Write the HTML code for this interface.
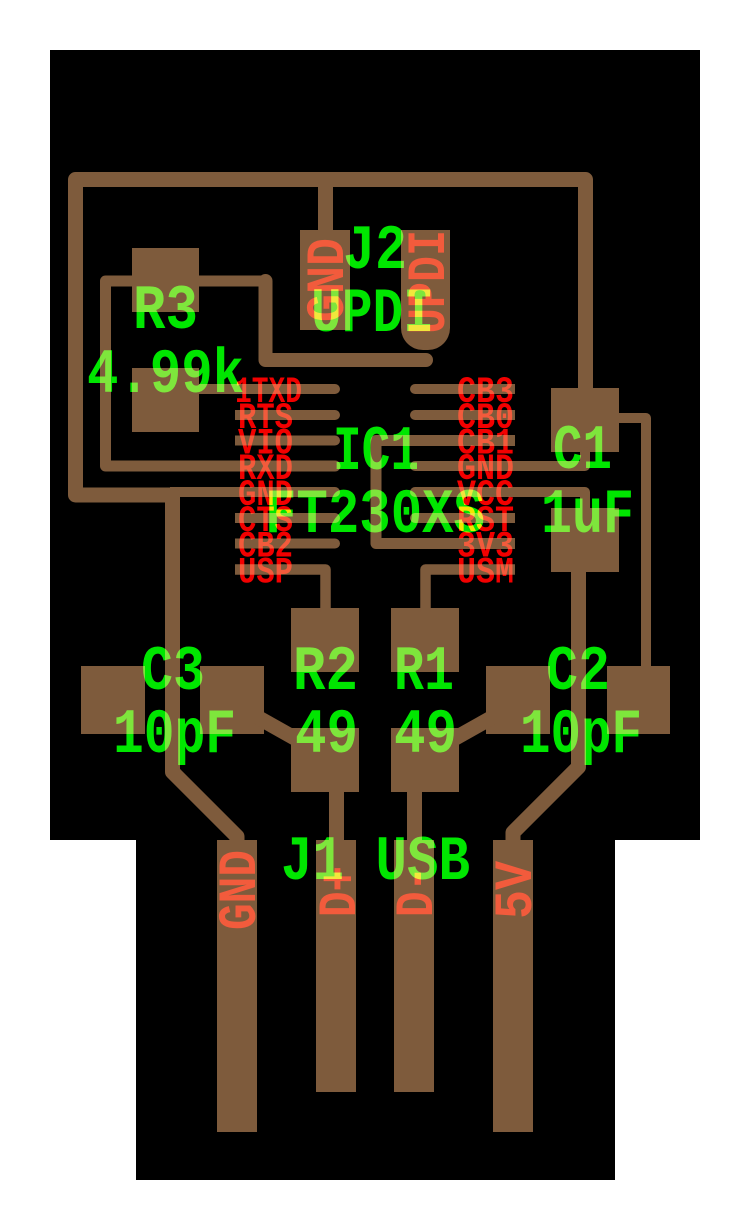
<!DOCTYPE html>
<html>
<head>
<meta charset="utf-8">
<style>
html,body{margin:0;padding:0;background:#fff;}
svg{display:block;}
.red{mix-blend-mode:lighten;}
.grn{mix-blend-mode:lighten;}
</style>
</head>
<body>
<svg width="750" height="1230" viewBox="0 0 750 1230" xmlns="http://www.w3.org/2000/svg">
<rect x="0" y="0" width="750" height="1230" fill="#ffffff"/>
<polygon points="50,50 700,50 700,840 615,840 615,1180 136,1180 136,840 50,840" fill="#000000"/>

<g fill="#7e5b3c" stroke="none">
  <rect x="132" y="248" width="67" height="64"/>
  <rect x="132" y="368" width="67" height="64"/>
  <rect x="300" y="230" width="50" height="100"/>
  <path d="M401,230 H450 V328 A22,22 0 0 1 428,350 H423 A22,22 0 0 1 401,328 Z"/>
  <rect x="551" y="388" width="68" height="64"/>
  <rect x="551" y="508" width="68" height="64"/>
  <rect x="81" y="666" width="64" height="68"/>
  <rect x="200" y="666" width="64" height="68"/>
  <rect x="486" y="666" width="64" height="68"/>
  <rect x="607" y="666" width="63" height="68"/>
  <rect x="291" y="608" width="68" height="64"/>
  <rect x="291" y="728" width="68" height="64"/>
  <rect x="391" y="608" width="68" height="64"/>
  <rect x="391" y="728" width="68" height="64"/>
  <rect x="217" y="840" width="40" height="292"/>
  <rect x="316" y="840" width="40" height="252"/>
  <rect x="394" y="840" width="40" height="252"/>
  <rect x="493" y="840" width="40" height="292"/>

  <rect x="199" y="384" width="136" height="10"/><circle cx="335" cy="389" r="5"/>
  <rect x="235" y="410" width="100" height="10"/><circle cx="335" cy="415" r="5"/>
  <rect x="235" y="435.5" width="100" height="10"/><circle cx="335" cy="440.5" r="5"/>
  <rect x="170" y="487" width="165" height="10"/><circle cx="335" cy="492" r="5"/>
  <rect x="235" y="513" width="100" height="10"/><circle cx="335" cy="518" r="5"/>
  <rect x="235" y="538.5" width="100" height="10"/><circle cx="335" cy="543.5" r="5"/>

  <rect x="415" y="384" width="100" height="10"/><circle cx="415" cy="389" r="5"/>
  <rect x="415" y="410" width="100" height="10"/><circle cx="415" cy="415" r="5"/>
  <rect x="415" y="513" width="100" height="10"/><circle cx="415" cy="518" r="5"/>
</g>

<g fill="none" stroke="#7e5b3c" stroke-linejoin="round">
  <polyline stroke-width="15" stroke-linecap="butt" points="585.5,392 585.5,179.5 75.5,179.5 75.5,495 172.5,495 172.5,772 237,836.5 237,845"/>
  <line stroke-width="15" x1="325.5" y1="179.5" x2="325.5" y2="234"/>
  <polyline stroke-width="11" stroke-linecap="round" points="335,466 105.5,466 105.5,281 265.5,281"/>
  <polyline stroke-width="14" stroke-linecap="round" points="265.5,281 265.5,360 426,360"/>
  <polyline stroke-width="10.5" stroke-linecap="butt" points="235,569.5 325.5,569.5 325.5,612"/>
  <polyline stroke-width="10.5" stroke-linecap="butt" points="515,569.5 425.5,569.5 425.5,612"/>
  <polyline stroke-width="11" stroke-linecap="butt" points="515,440.5 376,440.5 376,543.5 515,543.5"/>
  <polyline stroke-width="10" stroke-linecap="round" points="415,466 585,466 585,452"/>
  <polyline stroke-width="10" stroke-linecap="round" points="415,492 585,492 585,510"/>
  <polyline stroke-width="10" stroke-linecap="butt" points="612,418 646,418 646,670"/>
  <polyline stroke-width="15" stroke-linecap="butt" points="578.5,570 578.5,767 513,832.5 513,845"/>
  <line stroke-width="15" x1="336.5" y1="788" x2="336.5" y2="844"/>
  <line stroke-width="15" x1="414.5" y1="788" x2="414.5" y2="844"/>
  <line stroke-width="15" x1="258" y1="717.5" x2="298" y2="740"/>
  <line stroke-width="15" x1="452" y1="740" x2="492" y2="717.5"/>
</g>

<g class="red" fill="#f20000" font-family="'Liberation Mono', 'DejaVu Sans Mono', monospace" font-weight="bold" font-size="37">
  <text x="235" y="402" textLength="67" lengthAdjust="spacingAndGlyphs">1TXD</text>
  <text x="238" y="428" textLength="55" lengthAdjust="spacingAndGlyphs">RTS</text>
  <text x="238" y="453.5" textLength="55" lengthAdjust="spacingAndGlyphs">VIO</text>
  <text x="238" y="479" textLength="55" lengthAdjust="spacingAndGlyphs">RXD</text>
  <text x="238" y="505" textLength="55" lengthAdjust="spacingAndGlyphs">GND</text>
  <text x="238" y="531" textLength="55" lengthAdjust="spacingAndGlyphs">CTS</text>
  <text x="238" y="556.5" textLength="55" lengthAdjust="spacingAndGlyphs">CB2</text>
  <text x="238" y="582.5" textLength="55" lengthAdjust="spacingAndGlyphs">USP</text>

  <text x="457" y="402" textLength="57" lengthAdjust="spacingAndGlyphs">CB3</text>
  <text x="457" y="428" textLength="57" lengthAdjust="spacingAndGlyphs">CB0</text>
  <text x="457" y="453.5" textLength="57" lengthAdjust="spacingAndGlyphs">CB1</text>
  <text x="457" y="479" textLength="57" lengthAdjust="spacingAndGlyphs">GND</text>
  <text x="457" y="505" textLength="57" lengthAdjust="spacingAndGlyphs">VCC</text>
  <text x="457" y="531" textLength="57" lengthAdjust="spacingAndGlyphs">RST</text>
  <text x="457" y="556.5" textLength="57" lengthAdjust="spacingAndGlyphs">3V3</text>
  <text x="457" y="582.5" textLength="57" lengthAdjust="spacingAndGlyphs">USM</text>

  <g font-size="54">
    <text transform="translate(343,322) rotate(-90)" x="0" y="0" textLength="84" lengthAdjust="spacingAndGlyphs">GND</text>
    <text transform="translate(444,334) rotate(-90)" x="0" y="0" textLength="104" lengthAdjust="spacingAndGlyphs">UPDI</text>
    <text transform="translate(255,930) rotate(-90)" x="0" y="0" textLength="80" lengthAdjust="spacingAndGlyphs">GND</text>
    <text transform="translate(355,917) rotate(-90)" x="0" y="0" textLength="51" lengthAdjust="spacingAndGlyphs">D+</text>
    <text transform="translate(432,917) rotate(-90)" x="0" y="0" textLength="51" lengthAdjust="spacingAndGlyphs">D-</text>
    <text transform="translate(531,919) rotate(-90)" x="0" y="0" textLength="58" lengthAdjust="spacingAndGlyphs">5V</text>
  </g>
</g>

<g class="grn" fill="#00e600" font-family="'Liberation Mono', 'DejaVu Sans Mono', monospace" font-weight="bold" font-size="63">
  <text x="343" y="268" textLength="64" lengthAdjust="spacingAndGlyphs">J2</text>
  <text x="311" y="331" textLength="123" lengthAdjust="spacingAndGlyphs">UPDI</text>
  <text x="133" y="328" textLength="65" lengthAdjust="spacingAndGlyphs">R3</text>
  <text x="87" y="392" textLength="157" lengthAdjust="spacingAndGlyphs">4.99k</text>
  <text x="333" y="469" textLength="86" lengthAdjust="spacingAndGlyphs">IC1</text>
  <text x="265" y="532" textLength="220" lengthAdjust="spacingAndGlyphs">FT230XS</text>
  <text x="553" y="468" textLength="59" lengthAdjust="spacingAndGlyphs">C1</text>
  <text x="541" y="532" textLength="93" lengthAdjust="spacingAndGlyphs">1uF</text>
  <text x="141" y="689" textLength="64" lengthAdjust="spacingAndGlyphs">C3</text>
  <text x="113" y="752" textLength="123" lengthAdjust="spacingAndGlyphs">10pF</text>
  <text x="293" y="689" textLength="65" lengthAdjust="spacingAndGlyphs">R2</text>
  <text x="295" y="752" textLength="63" lengthAdjust="spacingAndGlyphs">49</text>
  <text x="394" y="689" textLength="60" lengthAdjust="spacingAndGlyphs">R1</text>
  <text x="394" y="752" textLength="63" lengthAdjust="spacingAndGlyphs">49</text>
  <text x="546" y="689" textLength="64" lengthAdjust="spacingAndGlyphs">C2</text>
  <text x="520" y="752" textLength="122" lengthAdjust="spacingAndGlyphs">10pF</text>
  <text x="281" y="879" textLength="189" lengthAdjust="spacingAndGlyphs">J1 USB</text>
</g>
</svg>
</body>
</html>
